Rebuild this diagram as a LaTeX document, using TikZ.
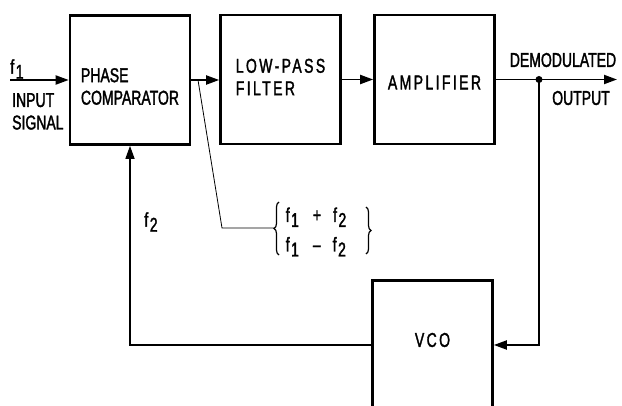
\documentclass[tikz,border=0pt]{standalone}
\usepackage{fontspec}
\setmainfont{Liberation Sans}
\newfontfamily\letterfont[FakeStretch=0.70,FakeBold=1.6]{Liberation Sans}
\newfontfamily\spacedfont[FakeStretch=0.70,FakeBold=1.6,LetterSpace=12]{Liberation Sans}
\usetikzlibrary{arrows.meta, decorations.pathreplacing, calc}
\newcommand{\fsub}[1]{f\kern1.5pt\raisebox{-5pt}{#1}}

\begin{document}
\begin{tikzpicture}[x=1pt, y=-1pt,
    block/.style={draw, line width=2.6pt, minimum width=120pt, minimum height=129pt, inner sep=0pt},
    lab/.style={font=\letterfont\fontsize{20}{22.5}\selectfont, align=left, inner sep=0pt},
    widelab/.style={font=\spacedfont\fontsize{20}{22.5}\selectfont, align=left, inner sep=0pt},
    wire/.style={line width=1.9pt},
    arr/.style={-{Triangle[length=13pt,width=9pt]}}]
    \useasboundingbox (0,0) rectangle (622,406);
    \clip (0,0) rectangle (622,406);

    % Blocks
    \node[block, label={[lab, yshift=-6.5pt]center:PHASE\\COMPARATOR}] (pc) at (130,80) {};
    \node[block, label={[widelab, yshift=2.5pt]center:LOW-PASS\\FILTER}] (lpf) at (280.5,79.5) {};
    \node[block, label={[widelab, yshift=-3pt]center:AMPLIFIER}] (amp) at (434.5,79.5) {};
    \node[block, label={[widelab, yshift=5pt]center:VCO}] (vco) at (432.5,345) {};

    % Input and output labels
    \node[lab] (fin) at (17,69) {\fsub{1}};
    \node[lab, anchor=north west] (insig) at (12,93) {INPUT\\SIGNAL};
    \node[lab] (demod) at (563,60) {DEMODULATED};
    \node[lab] (outlab) at (581,98) {OUTPUT};
    \node[lab] (ffb) at (151,222) {\fsub{2}};
    \node[widelab] (sums) at (316,232) {\fsub{1}\hspace{14pt}+\hspace{12pt}\fsub{2}\\[7pt]\fsub{1}\hspace{14pt}\textendash\hspace{12pt}\fsub{2}};

    % Signal path
    \coordinate (inp) at (10,80);
    \coordinate (jn) at (539,79.5);
    \coordinate (outp) at (617,79.5);
    \draw[wire, arr] (inp) -- (pc.west);
    \draw[wire, arr] (pc.east) -- (pc.east -| lpf.west);
    \draw[wire, arr] (lpf.east) -- (amp.west);
    \draw[wire, arr] (amp.east) -- (outp);
    \fill (jn) circle (3.5pt);

    % Loop back through the VCO
    \draw[wire, arr] (jn) |- (vco.east);
    \draw[line width=1.4pt, arr] (vco.west) -| (pc.south);

    % Sum and difference products
    \coordinate (tap) at (198,80);
    \coordinate (kink) at (222,228);
    \coordinate (btip) at (274,228);
    \draw[line width=0.8pt] (tap) -- (kink) -- (btip);
    \draw[line width=1.2pt, decorate, decoration={brace, amplitude=5pt}] (279,255) -- (279,202);
    \draw[line width=1.2pt, decorate, decoration={brace, amplitude=5pt}] (366,207) -- (366,254);
\end{tikzpicture}
\end{document}
